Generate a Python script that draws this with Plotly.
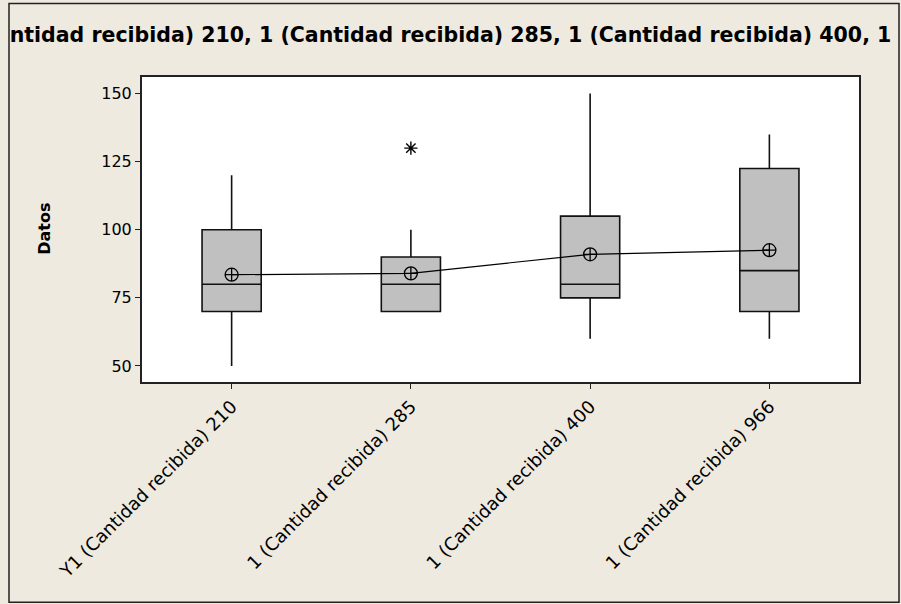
import plotly.graph_objects as go

# Groups and their five-number summaries
categories = [
    "Y1 (Cantidad recibida) 210",
    "1 (Cantidad recibida) 285",
    "1 (Cantidad recibida) 400",
    "1 (Cantidad recibida) 966",
]
lower_whisker = [50, 70, 60, 60]
q1_values = [70, 70, 75, 70]
median_values = [80, 80, 80, 85]
q3_values = [100, 90, 105, 122.5]
upper_whisker = [120, 100, 150, 135]
mean_values = [83.5, 84, 91, 92.5]

# Points beyond the whiskers
outlier_x = ["1 (Cantidad recibida) 285"]
outlier_y = [130]

y_ticks = [50, 75, 100, 125, 150]

title_text = "ntidad recibida) 210, 1 (Cantidad recibida) 285, 1 (Cantidad recibida) 400, 1"

BG = "#EEEAE0"
FONT = "DejaVu Sans"

fig = go.Figure()

fig.add_trace(go.Box(
    x=categories,
    q1=q1_values,
    median=median_values,
    q3=q3_values,
    lowerfence=lower_whisker,
    upperfence=upper_whisker,
    boxpoints=False,
    width=0.33,
    whiskerwidth=0,
    fillcolor="#C0C0C0",
    line=dict(color="#111111", width=1.6),
    showlegend=False,
    hoverinfo="skip",
))

fig.add_trace(go.Scatter(
    x=categories,
    y=mean_values,
    mode="lines+markers",
    line=dict(color="black", width=1.2),
    marker=dict(symbol="circle-cross-open", size=13, color="black",
                line=dict(width=1.3, color="black")),
    showlegend=False,
))

fig.add_trace(go.Scatter(
    x=outlier_x,
    y=outlier_y,
    mode="markers",
    marker=dict(symbol="asterisk-open", size=11, color="black",
                line=dict(width=1.4, color="black")),
    showlegend=False,
))

# Outer frame round the whole graph
fig.add_shape(type="rect", xref="paper", yref="paper",
              x0=(9 - 142) / 717, x1=(899 - 142) / 717,
              y0=(382 - 602) / 304.5, y1=(382 - 4) / 304.5,
              line=dict(color="#222222", width=1.5), layer="below")

fig.add_annotation(
    text="<b>Datos</b>", textangle=-90,
    xref="paper", yref="paper",
    x=(45 - 142) / 717, y=(382 - 229) / 304.5,
    showarrow=False, font=dict(family=FONT, size=16, color="black"),
    xanchor="center", yanchor="middle",
)

fig.update_layout(
    width=901, height=604,
    margin=dict(l=142, r=42, t=77, b=222),
    paper_bgcolor=BG,
    plot_bgcolor="white",
    font=dict(family=FONT, size=16, color="black"),
    title=dict(text="<b>" + title_text + "</b>", x=0.5, xanchor="center",
               y=1 - 35 / 604, yanchor="middle", yref="container",
               font=dict(family=FONT, size=20.5, color="black")),
    xaxis=dict(
        type="category",
        categoryorder="array", categoryarray=categories,
        range=[-0.5, 3.5],
        showline=True, mirror=True, linecolor="#222222", linewidth=2,
        ticks="outside", ticklen=5, tickcolor="#222222",
        tickangle=-45, tickfont=dict(size=18),
        showgrid=False, zeroline=False,
    ),
    yaxis=dict(
        range=[44.1, 156.1],
        tickvals=y_ticks,
        showline=True, mirror=True, linecolor="#222222", linewidth=2,
        ticks="outside", ticklen=5, tickcolor="#222222",
        tickfont=dict(size=16),
        showgrid=False, zeroline=False,
    ),
)

fig.write_html("out.html")
